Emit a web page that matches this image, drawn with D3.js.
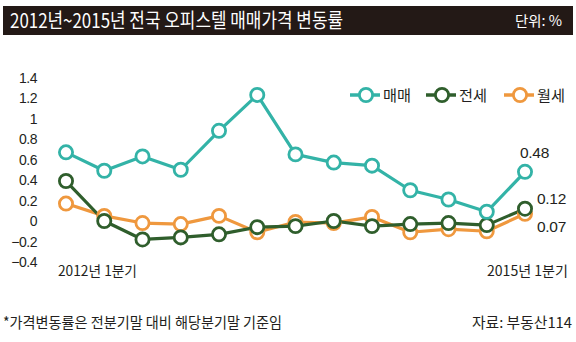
<!DOCTYPE html>
<html><head><meta charset="utf-8">
<script src="https://cdn.jsdelivr.net/npm/d3@7"></script>
<style>
html,body{margin:0;padding:0;background:#fff;}
svg{display:block;}
text{font-family:"Liberation Sans","Noto Sans CJK KR",sans-serif;fill:#231f20;}
.kr{font-family:"Noto Sans CJK KR","Liberation Sans",sans-serif;}
</style></head>
<body>
<svg id="c" width="576" height="342"></svg>
<script>
const periods = ["2012Q1","2012Q2","2012Q3","2012Q4","2013Q1","2013Q2","2013Q3","2013Q4","2014Q1","2014Q2","2014Q3","2014Q4","2015Q1"];
const sale   = [0.67, 0.49, 0.63, 0.50, 0.88, 1.23, 0.65, 0.57, 0.54, 0.30, 0.21, 0.09, 0.48];
const jeonse = [0.39, 0.00, -0.18, -0.16, -0.13, -0.06, -0.05, 0.00, -0.05, -0.03, -0.02, -0.04, 0.12];
const wolse  = [0.17, 0.05, -0.02, -0.03, 0.05, -0.11, -0.01, -0.02, 0.04, -0.11, -0.08, -0.10, 0.07];
const yTicks = [1.4, 1.2, 1, 0.8, 0.6, 0.4, 0.2, 0, -0.2, -0.4];
const seriesNames = ["매매","전세","월세"];
const seriesColors = ["#33b3a7","#2f5e2c","#ef983e"];
const title = "2012년~2015년 전국 오피스텔 매매가격 변동률";
const unit = "단위: %";
const note = "*가격변동률은 전분기말 대비 해당분기말 기준임";
const source = "자료: 부동산114";
const xLabels = ["2012년 1분기","2015년 1분기"];

const svg = d3.select("#c");
// title bar
svg.append("rect").attr("x",3).attr("y",6).attr("width",570).attr("height",29).attr("fill","#231916");
svg.append("text").attr("class","kr").attr("x",10).attr("y",28).attr("font-size",20)
  .attr("textLength",333).attr("lengthAdjust","spacingAndGlyphs").style("fill","#fff").text(title);
svg.append("text").attr("class","kr").attr("x",562).attr("y",25.5).attr("font-size",14)
  .attr("text-anchor","end").attr("textLength",47).attr("lengthAdjust","spacingAndGlyphs").style("fill","#fff").text(unit);

const x = d3.scalePoint().domain(periods).range([66,525]);
const y = d3.scaleLinear().domain([-0.4,1.4]).range([262,77.5]);

// y tick labels
svg.append("g").selectAll("text").data(yTicks).join("text")
  .attr("x",37).attr("y",d=>y(d)).attr("dy","0.36em").attr("text-anchor","end")
  .attr("font-size",14).attr("letter-spacing","-0.5")
  .text(d=> d<0 ? "−"+Math.abs(d) : String(d));

// x labels
svg.append("text").attr("class","kr").attr("x",58).attr("y",276).attr("font-size",14)
  .attr("textLength",79).attr("lengthAdjust","spacingAndGlyphs").text(xLabels[0]);
svg.append("text").attr("class","kr").attr("x",487).attr("y",276).attr("font-size",14)
  .attr("textLength",81).attr("lengthAdjust","spacingAndGlyphs").text(xLabels[1]);

const all = [sale, jeonse, wolse];
const line = d3.line().x((d,i)=>x(periods[i])).y(d=>y(d));
const order = [2,1,0];
order.forEach(k=>{
  svg.append("path").datum(all[k]).attr("d",line).attr("fill","none")
    .attr("stroke",seriesColors[k]).attr("stroke-width",3.2).attr("stroke-linejoin","round");
});
order.forEach(k=>{
  svg.append("g").selectAll("circle").data(all[k]).join("circle")
    .attr("cx",(d,i)=>x(periods[i])).attr("cy",d=>y(d)).attr("r",6.6)
    .attr("fill","#fff").attr("stroke",seriesColors[k]).attr("stroke-width",2.8);
});

// end value labels
const endLabels = [
  {v: sale[12], x: 520, y: 158},
  {v: jeonse[12], x: 537, y: 204},
  {v: wolse[12], x: 537, y: 232}
];
svg.append("g").selectAll("text").data(endLabels).join("text")
  .attr("x",d=>d.x).attr("y",d=>d.y).attr("font-size",15.5).attr("letter-spacing","-0.3")
  .text(d=>d.v.toFixed(2));

// legend
const legX = [366, 442, 520];
seriesNames.forEach((n,k)=>{
  const g = svg.append("g");
  g.append("line").attr("x1",legX[k]-16).attr("x2",legX[k]+14).attr("y1",95).attr("y2",95)
    .attr("stroke",seriesColors[k]).attr("stroke-width",3.5);
  g.append("circle").attr("cx",legX[k]).attr("cy",95).attr("r",6.6).attr("fill","#fff")
    .attr("stroke",seriesColors[k]).attr("stroke-width",2.8);
  g.append("text").attr("class","kr").attr("x",legX[k]+17).attr("y",100.5).attr("font-size",15)
    .attr("textLength",28).attr("lengthAdjust","spacingAndGlyphs").text(n);
});

// footer
svg.append("text").attr("class","kr").attr("x",3).attr("y",328).attr("font-size",15)
  .attr("textLength",279).attr("lengthAdjust","spacingAndGlyphs").text(note);
svg.append("text").attr("class","kr").attr("x",572).attr("y",328).attr("font-size",15)
  .attr("text-anchor","end").attr("textLength",100).attr("lengthAdjust","spacingAndGlyphs").text(source);
</script>
</body></html>
